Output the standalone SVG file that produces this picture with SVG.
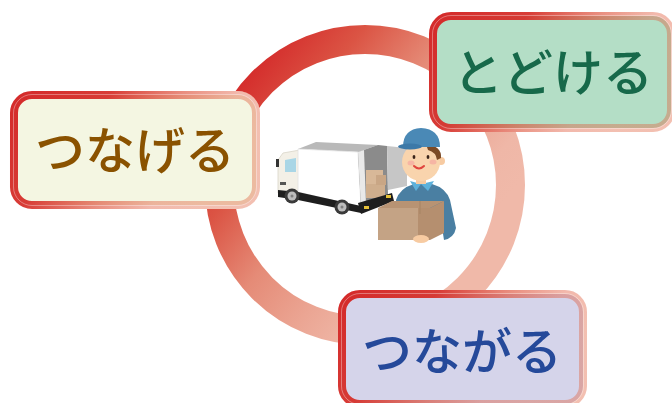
<svg xmlns="http://www.w3.org/2000/svg" width="672" height="403" viewBox="0 0 672 403">
  <defs>
    <!-- ring: deep red at upper left, fading to pale salmon at lower right -->
    <linearGradient id="ringGrad" gradientUnits="userSpaceOnUse" x1="183" y1="147" x2="406" y2="325">
      <stop offset="0" stop-color="#d42a2a"/>
      <stop offset="0.235" stop-color="#db5444"/>
      <stop offset="0.48" stop-color="#e58b77"/>
      <stop offset="0.7" stop-color="#eba593"/>
      <stop offset="0.88" stop-color="#efb7a7"/>
      <stop offset="1" stop-color="#f0b9a9"/>
    </linearGradient>
    <!-- label frame: opaque red on the left, translucent salmon toward the right -->
    <linearGradient id="frameGrad" x1="0" y1="0" x2="1" y2="0.35">
      <stop offset="0" stop-color="#d42a2a" stop-opacity="1"/>
      <stop offset="0.35" stop-color="#d6322c" stop-opacity="0.95"/>
      <stop offset="0.62" stop-color="#dc4a32" stop-opacity="0.62"/>
      <stop offset="0.82" stop-color="#e0583a" stop-opacity="0.42"/>
      <stop offset="1" stop-color="#e0603c" stop-opacity="0.4"/>
    </linearGradient>
  </defs>
  <style>
    .ring { fill: none; stroke: url(#ringGrad); stroke-width: 29; }
    .backing { fill: #ffffff; }
    .frame { stroke: url(#frameGrad); stroke-width: 8; }
    .gloss { fill: none; stroke: #ffffff; stroke-opacity: 0.35; stroke-width: 1; }
    .label { font-family: "Noto Sans CJK JP", "Noto Sans", sans-serif; font-size: 50px; font-weight: 500; text-anchor: middle; }
  </style>

  <rect width="672" height="403" fill="#ffffff"/>

  <!-- cycle ring behind the labels -->
  <g id="connectors">
    <circle class="ring" cx="365" cy="185" r="145.5"/>
  </g>

  <!-- center illustration: delivery truck and courier -->
  <g id="delivery-illustration">
    <!-- truck cab -->
    <polygon points="278,160 283,153 300,150 300,197 278,193" fill="#f3f0e7" stroke="#d8d4c8" stroke-width="0.8"/>
    <polygon points="285,160 296,158 296,172 285,172" fill="#a9d6e6"/>
    <rect x="276" y="159" width="3" height="8" fill="#333"/>
    <rect x="280" y="182" width="6" height="3" fill="#555"/>
    <!-- cargo box -->
    <polygon points="298,149 316,142 378,145 358,152" fill="#b9b9b9"/>
    <polygon points="298,149 358,152 361,207 298,192" fill="#ffffff" stroke="#e2e2e2" stroke-width="0.8"/>
    <polygon points="358,152 378,145 387,146 388,196 361,207" fill="#8b8b8b"/>
    <polygon points="358,152 364,150 366,205 361,207" fill="#e9e9e9"/>
    <polygon points="387,146 407,148 407,186 388,190" fill="#c6c6c6"/>
    <!-- parcels inside -->
    <rect x="366" y="170" width="17" height="14" fill="#d8b898"/>
    <rect x="366" y="184" width="19" height="14" fill="#cfae8d"/>
    <rect x="376" y="175" width="10" height="10" fill="#c9a685"/>
    <!-- chassis -->
    <polygon points="278,190 298,192 361,206 361,213 298,200 278,197" fill="#1e1e1e"/>
    <polygon points="358,203 392,193 394,201 361,214" fill="#1e1e1e"/>
    <rect x="364" y="206" width="5" height="3" fill="#e6c23a"/>
    <rect x="386" y="195" width="5" height="3" fill="#e6c23a"/>
    <!-- wheels -->
    <circle cx="292" cy="196" r="7.5" fill="#3a3a3a"/>
    <circle cx="292" cy="196" r="4.5" fill="#bdbdbd"/>
    <circle cx="292" cy="196" r="1.5" fill="#808080"/>
    <circle cx="342" cy="207" r="7.5" fill="#3a3a3a"/>
    <circle cx="342" cy="207" r="4.5" fill="#bdbdbd"/>
    <circle cx="342" cy="207" r="1.5" fill="#808080"/>

    <!-- courier body -->
    <path d="M396,200 Q400,188 414,184 L432,184 Q446,188 450,200 L456,228 Q454,238 444,240 L440,215 L398,215 Z" fill="#4a7fa2"/>
    <polygon points="410,181 421,184 416,191" fill="#5db1db"/>
    <polygon points="421,184 434,181 428,191" fill="#5db1db"/>
    <rect x="416" y="176" width="10" height="8" fill="#f7cba2"/>
    <!-- head -->
    <circle cx="441" cy="161" r="4" fill="#f7cba2"/>
    <ellipse cx="421" cy="162" rx="19" ry="19" fill="#f9d4ad"/>
    <path d="M426,144 Q442,146 441,158 L437,160 Q436,152 428,150 Z" fill="#7b4a25"/>
    <ellipse cx="411" cy="163" rx="3.5" ry="2.5" fill="#f5a8a0" opacity="0.7"/>
    <ellipse cx="433" cy="162" rx="3.5" ry="2.5" fill="#f5a8a0" opacity="0.7"/>
    <ellipse cx="414" cy="157" rx="1.4" ry="2" fill="#3a2418"/>
    <ellipse cx="428" cy="157" rx="1.4" ry="2" fill="#3a2418"/>
    <path d="M414,166 Q419,171 424,166" fill="none" stroke="#e0463e" stroke-width="2" stroke-linecap="round"/>
    <!-- cap -->
    <path d="M403,147 Q403,129 421,128 Q440,129 440,147 Z" fill="#4a89b6"/>
    <ellipse cx="410" cy="146.5" rx="12" ry="3" fill="#3c79a8"/>
    <!-- parcel in hands -->
    <polygon points="378,208 392,201 444,201 430,208" fill="#b89373"/>
    <rect x="378" y="208" width="40" height="32" fill="#c4a385"/>
    <polygon points="418,208 430,208 444,201 444,233 430,240 418,240" fill="#b58f6f"/>
    <line x1="420" y1="201" x2="420" y2="214" stroke="#a98666" stroke-width="1.2"/>
    <ellipse cx="421" cy="239" rx="8" ry="4" fill="#f7cba2"/>
  </g>

  <!-- label: つなげる -->
  <g id="node-tsunageru">
    <rect class="backing" x="10" y="91" width="250" height="118" rx="22"/>
    <rect class="frame" x="14" y="95" width="242" height="110" rx="18" fill="#f4f6e2"/>
    <rect class="gloss" x="13.5" y="94.5" width="243" height="111" rx="18.5"/>
    <text class="label" x="135" y="169" fill="#8a5200">つなげる</text>
  </g>

  <!-- label: とどける -->
  <g id="node-todokeru">
    <rect class="backing" x="429" y="12" width="246" height="120" rx="22"/>
    <rect class="frame" x="433" y="16" width="238" height="112" rx="18" fill="#b4dec6"/>
    <rect class="gloss" x="432.5" y="15.5" width="239" height="113" rx="18.5"/>
    <text class="label" x="553" y="91" fill="#17694a">とどける</text>
  </g>

  <!-- label: つながる -->
  <g id="node-tsunagaru">
    <rect class="backing" x="338" y="290" width="249" height="118" rx="22"/>
    <rect class="frame" x="342" y="294" width="241" height="110" rx="18" fill="#d5d4ea"/>
    <rect class="gloss" x="341.5" y="293.5" width="242" height="111" rx="18.5"/>
    <text class="label" x="462" y="370" fill="#25499a">つながる</text>
  </g>
</svg>
